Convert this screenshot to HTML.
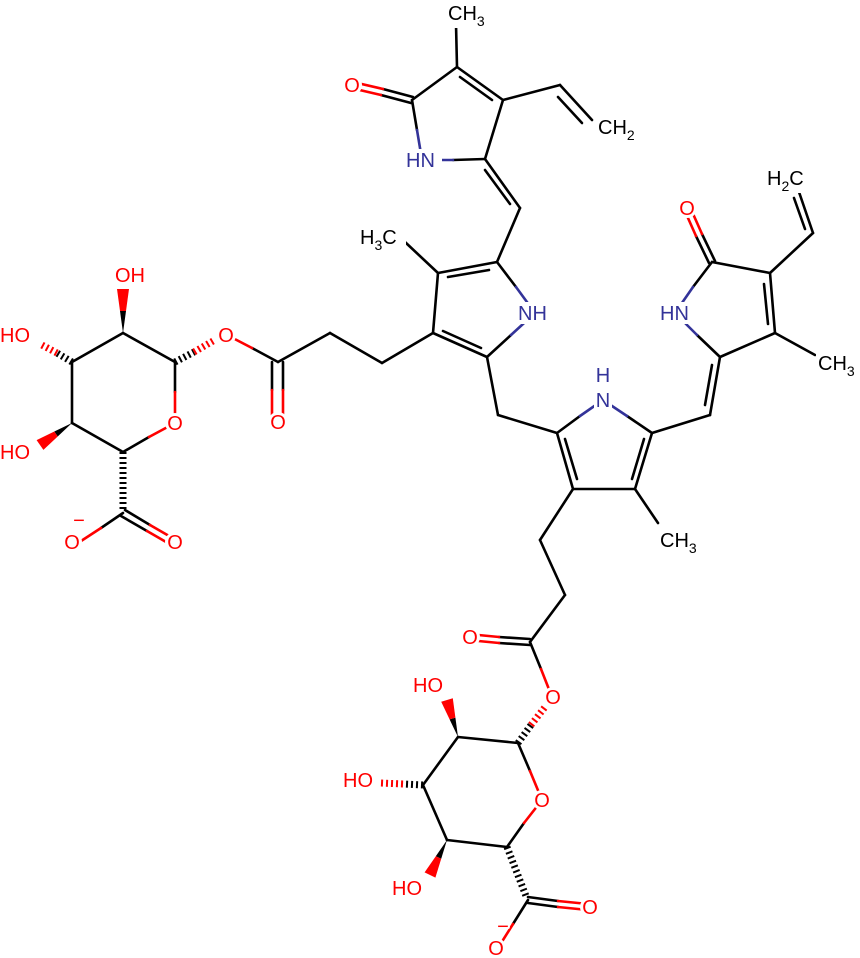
<!DOCTYPE html>
<html><head><meta charset="utf-8"><style>
html,body{margin:0;padding:0;background:#fff;}
svg{display:block;}
text{font-family:"Liberation Sans",Arial,sans-serif;font-size:20px;paint-order:stroke;stroke:#fff;stroke-width:4px;stroke-linejoin:round;}
.o{fill:#ff0000;} .n{fill:#333399;} .c{fill:#000;}
</style></head><body>
<svg width="860" height="958" viewBox="0 0 860 958" xmlns="http://www.w3.org/2000/svg">
<g stroke="#000" stroke-width="2.6" stroke-linecap="round" fill="none">
<line x1="457" y1="67" x2="456" y2="24"/>
<line x1="457" y1="67" x2="412" y2="100"/>
<line x1="457" y1="67" x2="503" y2="100"/>
<line x1="460" y1="77" x2="492" y2="100"/>
<line x1="503" y1="100" x2="485" y2="159"/>
<line x1="503" y1="100" x2="560" y2="85"/>
<line x1="560" y1="85" x2="592" y2="120"/>
<line x1="558" y1="97" x2="582" y2="123"/>
<line x1="485" y1="159" x2="520" y2="208"/>
<line x1="485" y1="170" x2="510" y2="204"/>
<line x1="520" y1="208" x2="497" y2="262"/>
<line x1="497" y1="262" x2="438" y2="273"/>
<line x1="489" y1="270" x2="448" y2="277"/>
<line x1="438" y1="273" x2="433" y2="333"/>
<line x1="433" y1="333" x2="487" y2="357"/>
<line x1="443" y1="331" x2="481" y2="348"/>
<line x1="438" y1="273" x2="405" y2="242"/>
<line x1="433" y1="333" x2="382" y2="363"/>
<line x1="382" y1="363" x2="330" y2="333"/>
<line x1="330" y1="333" x2="278" y2="362"/>
<line x1="487" y1="357" x2="498" y2="415"/>
<line x1="498" y1="415" x2="557" y2="433"/>
<line x1="557" y1="433" x2="573" y2="489"/>
<line x1="565" y1="439" x2="577" y2="479"/>
<line x1="573" y1="489" x2="635" y2="489"/>
<line x1="635" y1="489" x2="652" y2="433"/>
<line x1="644" y1="439" x2="632" y2="479"/>
<line x1="635" y1="489" x2="658" y2="523"/>
<line x1="573" y1="489" x2="540" y2="540"/>
<line x1="540" y1="540" x2="565" y2="595"/>
<line x1="565" y1="595" x2="530" y2="642"/>
<line x1="652" y1="433" x2="710" y2="415"/>
<line x1="710" y1="415" x2="720" y2="357"/>
<line x1="705" y1="405" x2="712" y2="365"/>
<line x1="712" y1="262" x2="770" y2="273"/>
<line x1="770" y1="273" x2="775" y2="333"/>
<line x1="764" y1="284" x2="768" y2="324"/>
<line x1="775" y1="333" x2="720" y2="357"/>
<line x1="775" y1="333" x2="815" y2="355"/>
<line x1="770" y1="273" x2="813" y2="233"/>
<line x1="813" y1="233" x2="799" y2="192"/>
<line x1="805" y1="229" x2="794" y2="198"/>
<line x1="175" y1="362" x2="123" y2="333"/>
<line x1="123" y1="333" x2="72" y2="362"/>
<line x1="72" y1="362" x2="72" y2="423"/>
<line x1="72" y1="423" x2="123" y2="452"/>
<line x1="175" y1="362" x2="175" y2="392"/>
<line x1="123" y1="452" x2="149" y2="437"/>
<line x1="518" y1="743" x2="458" y2="737"/>
<line x1="458" y1="737" x2="423" y2="785"/>
<line x1="423" y1="785" x2="447" y2="840"/>
<line x1="447" y1="840" x2="507" y2="847"/>
<line x1="518" y1="743" x2="530" y2="771"/>
<line x1="507" y1="847" x2="524" y2="823"/>
</g>
<g stroke-width="2.6" stroke-linecap="round" fill="none">
<line x1="413" y1="97" x2="383" y2="89" stroke="#000"/><line x1="383" y1="89" x2="353" y2="82" stroke="#f00"/>
<line x1="411" y1="103" x2="381" y2="95" stroke="#000"/><line x1="381" y1="95" x2="351" y2="88" stroke="#f00"/>
<line x1="412" y1="100" x2="417" y2="130" stroke="#000"/><line x1="417" y1="130" x2="422" y2="160" stroke="#333399"/>
<line x1="485" y1="159" x2="453" y2="160" stroke="#000"/><line x1="453" y1="160" x2="422" y2="160" stroke="#333399"/>
<line x1="497" y1="262" x2="516" y2="287" stroke="#000"/><line x1="516" y1="287" x2="535" y2="313" stroke="#333399"/>
<line x1="487" y1="357" x2="511" y2="335" stroke="#000"/><line x1="511" y1="335" x2="535" y2="313" stroke="#333399"/>
<line x1="557" y1="433" x2="580" y2="416" stroke="#000"/><line x1="580" y1="416" x2="603" y2="400" stroke="#333399"/>
<line x1="652" y1="433" x2="627" y2="416" stroke="#000"/><line x1="627" y1="416" x2="603" y2="400" stroke="#333399"/>
<line x1="712" y1="262" x2="693" y2="287" stroke="#000"/><line x1="693" y1="287" x2="675" y2="313" stroke="#333399"/>
<line x1="720" y1="357" x2="697" y2="335" stroke="#000"/><line x1="697" y1="335" x2="675" y2="313" stroke="#333399"/>
<line x1="715" y1="261" x2="702" y2="234" stroke="#000"/><line x1="702" y1="234" x2="690" y2="207" stroke="#f00"/>
<line x1="709" y1="263" x2="696" y2="236" stroke="#000"/><line x1="696" y1="236" x2="684" y2="209" stroke="#f00"/>
<line x1="278" y1="362" x2="252" y2="348" stroke="#000"/><line x1="252" y1="348" x2="227" y2="335" stroke="#f00"/>
<line x1="272" y1="362" x2="272" y2="390" stroke="#000"/><line x1="272" y1="390" x2="272" y2="420" stroke="#f00"/>
<line x1="283" y1="362" x2="283" y2="390" stroke="#000"/><line x1="283" y1="390" x2="283" y2="420" stroke="#f00"/>
<line x1="175" y1="392" x2="175" y2="423" stroke="#f00"/>
<line x1="149" y1="437" x2="175" y2="423" stroke="#f00"/>
<line x1="123" y1="513" x2="101" y2="528" stroke="#000"/><line x1="101" y1="528" x2="78" y2="543" stroke="#f00"/>
<line x1="125" y1="510" x2="150" y2="525" stroke="#000"/><line x1="150" y1="525" x2="176" y2="540" stroke="#f00"/>
<line x1="121" y1="516" x2="147" y2="531" stroke="#000"/><line x1="147" y1="531" x2="173" y2="546" stroke="#f00"/>
<line x1="530" y1="639" x2="499" y2="637" stroke="#000"/><line x1="499" y1="637" x2="468" y2="634" stroke="#f00"/>
<line x1="530" y1="645" x2="499" y2="643" stroke="#000"/><line x1="499" y1="643" x2="468" y2="640" stroke="#f00"/>
<line x1="530" y1="642" x2="541" y2="669" stroke="#000"/><line x1="541" y1="669" x2="552" y2="697" stroke="#f00"/>
<line x1="530" y1="771" x2="542" y2="800" stroke="#f00"/>
<line x1="524" y1="823" x2="542" y2="800" stroke="#f00"/>
<line x1="528" y1="897" x2="558" y2="901" stroke="#000"/><line x1="558" y1="901" x2="588" y2="904" stroke="#f00"/>
<line x1="528" y1="903" x2="558" y2="907" stroke="#000"/><line x1="558" y1="907" x2="588" y2="910" stroke="#f00"/>
<line x1="528" y1="900" x2="513" y2="924" stroke="#000"/><line x1="513" y1="924" x2="498" y2="948" stroke="#f00"/>
</g>
<polygon points="123,333 120,311 126,311" fill="#000"/>
<polygon points="120,311 126,311 129,289 117,289" fill="#f00"/>
<polygon points="72,423 57.7,436.5 54.3,431.5" fill="#000"/>
<polygon points="57.7,436.5 54.3,431.5 36.6,440.1 43.4,449.9" fill="#f00"/>
<polygon points="458,737 455.4,717.6 449.6,719.4" fill="#000"/>
<polygon points="455.4,717.6 449.6,719.4 441.2,701.7 452.8,698.3" fill="#f00"/>
<polygon points="447,840 441.2,858.8 435.8,856.2" fill="#000"/>
<polygon points="441.2,858.8 435.8,856.2 424.6,872.4 435.4,877.6" fill="#f00"/>
<g stroke-width="7" stroke-dasharray="2 3" fill="none">
<line x1="72" y1="362" x2="57" y2="353" stroke="#000"/><line x1="57" y1="353" x2="40" y2="344" stroke="#f00"/>
<line x1="175" y1="362" x2="194" y2="352" stroke="#000"/><line x1="194" y1="352" x2="213" y2="341" stroke="#f00"/>
<line x1="123" y1="452" x2="123" y2="510" stroke="#000"/>
<line x1="518" y1="743" x2="531" y2="725" stroke="#000"/><line x1="531" y1="725" x2="545" y2="707" stroke="#f00"/>
<line x1="423" y1="785" x2="403" y2="784" stroke="#000"/><line x1="403" y1="784" x2="381" y2="783" stroke="#f00"/>
<line x1="507" y1="847" x2="526" y2="896" stroke="#000"/>
</g>
<!-- white label backgrounds -->
<g fill="#fff">
<circle cx="352" cy="85" r="10"/><circle cx="687" cy="208" r="10"/><circle cx="175" cy="423" r="10"/>
<circle cx="226" cy="335" r="10"/><circle cx="278" cy="422" r="10"/><circle cx="72" cy="542" r="10"/>
<circle cx="175" cy="542" r="10"/><circle cx="470" cy="637" r="10"/><circle cx="553" cy="697" r="10"/>
<circle cx="542" cy="800" r="10"/><circle cx="590" cy="907" r="10"/><circle cx="496" cy="948" r="10"/>
<rect x="404" y="149" width="38" height="22"/><rect x="516" y="302" width="36" height="22"/>
<rect x="594" y="364" width="18" height="46"/><rect x="658" y="302" width="36" height="22"/>
<rect x="113" y="264" width="36" height="22"/><rect x="0" y="324" width="36" height="22"/>
<rect x="0" y="441" width="36" height="22"/><rect x="411" y="674" width="36" height="22"/>
<rect x="341" y="769" width="36" height="22"/><rect x="390" y="877" width="36" height="22"/>
<rect x="446" y="2" width="46" height="26"/><rect x="596" y="116" width="42" height="26"/>
<rect x="358" y="226" width="48" height="26"/><rect x="765" y="167" width="46" height="26"/>
<rect x="816" y="352" width="44" height="26"/><rect x="658" y="529" width="44" height="26"/>
</g>
<text class="c" x="448" y="20">CH<tspan font-size="14" dy="6">3</tspan></text>
<text class="o" x="352" y="92" text-anchor="middle">O</text>
<text class="n" x="406" y="167">HN</text>
<text class="c" x="598" y="134">CH<tspan font-size="14" dy="6">2</tspan></text>
<text class="c" x="360" y="244">H<tspan font-size="14" dy="6">3</tspan><tspan dy="-6">C</tspan></text>
<text class="n" x="518" y="320">NH</text>
<text class="n" x="603" y="382" text-anchor="middle">H</text>
<text class="n" x="603" y="407" text-anchor="middle">N</text>
<text class="n" x="660" y="320">HN</text>
<text class="o" x="687" y="215" text-anchor="middle">O</text>
<text class="c" x="767" y="185">H<tspan font-size="14" dy="6">2</tspan><tspan dy="-6">C</tspan></text>
<text class="c" x="818" y="370">CH<tspan font-size="14" dy="6">3</tspan></text>
<text class="c" x="660" y="547">CH<tspan font-size="14" dy="6">3</tspan></text>
<text class="o" x="115" y="282">OH</text>
<text class="o" x="0" y="342">HO</text>
<text class="o" x="0" y="459">HO</text>
<text class="o" x="175" y="430" text-anchor="middle">O</text>
<text class="o" x="226" y="342" text-anchor="middle">O</text>
<text class="o" x="278" y="429" text-anchor="middle">O</text>
<text class="o" x="72" y="549" text-anchor="middle">O</text>
<text class="o" x="79" y="527" font-size="14" text-anchor="middle">−</text>
<text class="o" x="175" y="549" text-anchor="middle">O</text>
<text class="o" x="470" y="644" text-anchor="middle">O</text>
<text class="o" x="553" y="704" text-anchor="middle">O</text>
<text class="o" x="413" y="692">HO</text>
<text class="o" x="343" y="787">HO</text>
<text class="o" x="542" y="807" text-anchor="middle">O</text>
<text class="o" x="392" y="895">HO</text>
<text class="o" x="590" y="914" text-anchor="middle">O</text>
<text class="o" x="496" y="955" text-anchor="middle">O</text>
<text class="o" x="503" y="933" font-size="14" text-anchor="middle">−</text>
</svg>
</body></html>
